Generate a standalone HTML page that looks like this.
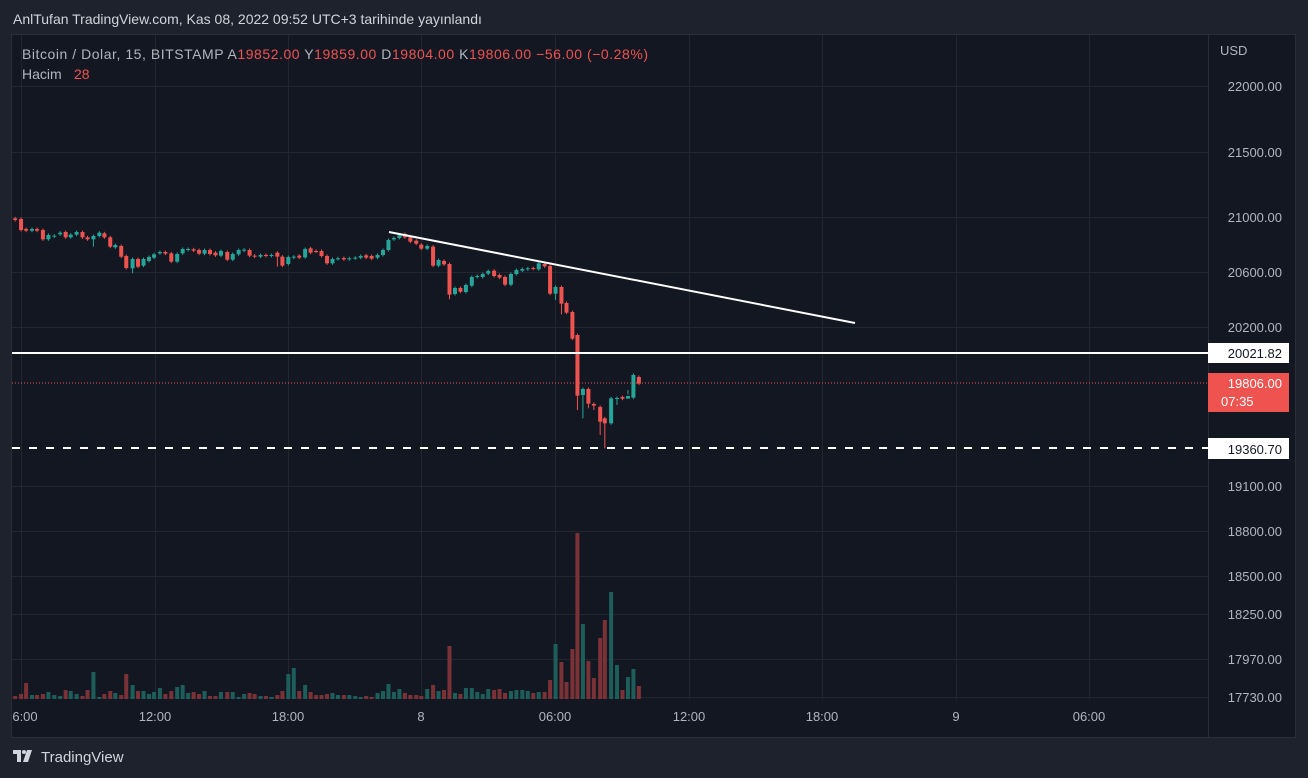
<!DOCTYPE html>
<html><head><meta charset="utf-8"><style>
html,body{margin:0;padding:0;background:#1e222d;width:1308px;height:778px;overflow:hidden;font-family:"Liberation Sans",sans-serif;}
svg{position:absolute;left:0;top:0}
</style></head><body>
<svg id="s" width="1308" height="778" xmlns="http://www.w3.org/2000/svg">
<rect x="0" y="0" width="1308" height="778" fill="#1e222d"/>
<rect x="11.5" y="34.5" width="1284" height="703" fill="#131722" stroke="#2a2e39"/>
<line x1="1208.5" y1="35" x2="1208.5" y2="737" stroke="#2a2e39"/>
<text x="13" y="24" fill="#d1d4dc" font-size="14">AnlTufan TradingView.com, Kas 08, 2022 09:52 UTC+3 tarihinde yayınlandı</text>
<g id="grid" stroke="#22262f" stroke-width="1"></g>
<g id="vol"></g>
<g id="cdl"></g>
<line x1="389" y1="232" x2="855" y2="323" stroke="#ffffff" stroke-width="2"/>
<line x1="12" y1="353" x2="1208" y2="353" stroke="#ffffff" stroke-width="2"/>
<line x1="12" y1="448" x2="1208" y2="448" stroke="#ffffff" stroke-width="2" stroke-dasharray="8,9"/>
<line x1="12" y1="383" x2="1208" y2="383" stroke="#ef5350" stroke-width="1" stroke-dasharray="1,2"/>
<g font-size="14" fill="#b2b5be">
<text x="22" y="59" textLength="626" lengthAdjust="spacing"><tspan>Bitcoin / Dolar, 15, BITSTAMP  A</tspan><tspan fill="#ef5350">19852.00</tspan><tspan>  Y</tspan><tspan fill="#ef5350">19859.00</tspan><tspan>  D</tspan><tspan fill="#ef5350">19804.00</tspan><tspan>  K</tspan><tspan fill="#ef5350">19806.00  −56.00 (−0.28%)</tspan></text>
<text x="22" y="79">Hacim</text><text x="74" y="79" fill="#ef5350">28</text>
<text x="1220" y="55" font-size="13">USD</text>
</g>
<g id="pl" font-size="13" fill="#b2b5be" text-anchor="end"></g>
<rect x="1208" y="343" width="81" height="20" fill="#ffffff"/>
<text x="1282" y="358" font-size="13" fill="#131722" text-anchor="end">20021.82</text>
<rect x="1208" y="373" width="81" height="39" fill="#ef5350"/>
<text x="1282" y="388" font-size="13" fill="#ffffff" text-anchor="end">19806.00</text>
<text x="1221" y="406" font-size="13" fill="#ffffff">07:35</text>
<rect x="1208" y="438" width="81" height="21" fill="#ffffff"/>
<text x="1282" y="454" font-size="13" fill="#131722" text-anchor="end">19360.70</text>
<g id="tl" font-size="13" fill="#b2b5be" text-anchor="middle"></g>
<g fill="#d1d4dc"><rect x="13" y="750" width="8" height="4"/><rect x="17" y="750" width="4" height="12"/><circle cx="24" cy="752" r="2"/><polygon points="27,750 32,750 28,762 23,762"/></g>
<text x="41" y="762" font-size="15" fill="#d1d4dc">TradingView</text>
</svg>
<script>
var NS="http://www.w3.org/2000/svg";
function el(p,t,a){var e=document.createElementNS(NS,t);for(var k in a)e.setAttribute(k,a[k]);document.getElementById(p).appendChild(e);return e;}
var hy=[86,152,217,272,327,486,531,576,614,659,697];
var hl=["22000.00","21500.00","21000.00","20600.00","20200.00","19100.00","18800.00","18500.00","18250.00","17970.00","17730.00"];
hy.forEach(function(y,i){el("grid","line",{x1:12,x2:1208,y1:y+.5,y2:y+.5});var t=el("pl","text",{x:1282,y:y+5});t.textContent=hl[i];});
var vx=[21,155,288,421,555,689,822,956,1089],vl=["6:00","12:00","18:00","8","06:00","12:00","18:00","9","06:00"];
vx.forEach(function(x,i){el("grid","line",{x1:x+.5,x2:x+.5,y1:35,y2:700});var t=el("tl","text",{x:i==0?25:x,y:721});t.textContent=vl[i];});
var d=[[36,55,60,528],[50,57,90,522],[62,87,92,489],[76,92,87,525],[88,87,92,525],[102,90,118,522],[115,118,105,516],[129,110,107,525],[143,103,98,528],[156,96,112,510],[168,112,104,513],[182,104,96,522],[196,96,112,528],[208,112,118,510],[222,118,108,456],[236,108,98,531],[248,100,112,522],[262,112,140,513],[274,142,135,519],[288,138,170,525],[300,168,204,462],[315,205,177,495],[328,177,200,513],[341,197,177,513],[354,183,171,522],[366,173,163,516],[380,160,156,504],[393,156,161,522],[407,160,185,513],[421,185,162,501],[434,160,147,495],[447,150,147,519],[460,148,152,516],[473,150,161,522],[486,161,150,513],[499,150,162,528],[512,158,166,528],[525,167,153,516],[540,156,179,516],[553,179,162,516],[567,163,150,531],[580,152,149,522],[593,150,167,519],[605,167,170,522],[619,170,165,528],[632,165,168,528],[645,168,165,531],[659,158,170,525],[671,170,197,513],[685,192,171,462],[698,173,170,444],[711,167,173,513],[725,172,147,495],[738,145,158,516],[751,153,155,525],[764,153,168,525],[777,168,190,522],[790,190,177,519],[803,177,175,525],[817,174,178,525],[830,178,175,525],[844,175,173,528],[857,173,168,531],[870,166,173,528],[883,168,176,531],[897,173,165,519],[910,165,150,513],[923,150,120,492],[936,118,114,516],[949,114,106,507],[962,102,112,519],[975,112,125,525],[989,122,131,525],[1001,134,146,528],[1015,146,138,507],[1029,140,197,495],[1042,197,180,513],[1055,183,193,510],[1068,192,284,378],[1081,282,264,519],[1094,264,275,522],[1107,276,255,504],[1121,257,231,504],[1134,231,228,516],[1147,231,222,522],[1160,221,213,507],[1174,212,228,510],[1187,225,233,507],[1200,231,254,519],[1214,254,222,513],[1227,222,210,510],[1241,212,207,510],[1254,208,205,513],[1267,204,206,519],[1280,208,190,516],[1294,192,199,516],[1307,198,281,480],[1320,281,261,372],[1334,261,311,426],[1346,309,338,486],[1360,336,416,387],[1372,405,587,39],[1385,585,567,312],[1398,567,611,423],[1411,612,617,474],[1426,621,665,354],[1437,655,670,300],[1452,670,595,216],[1466,596,594,435],[1479,591,596,510],[1492,596,588,471],[1505,593,525,447],[1518,531,551,498]];
var lows={222:140,315:220,659:200,1068:298,1320:300,1334:343,1372:630,1385:655,1426:705,1437:745,1398:625,1411:630,1466:615,1492:570};
d.forEach(function(c){
 var x=c[0]/2.376,o=200+c[1]/3,cl=200+c[2]/3,up=cl<o;
 var col=up?"#26a69a":"#ef5350";
 var top=Math.min(o,cl),bot=Math.max(o,cl);
 var lo=lows[c[0]]?200+lows[c[0]]/3:bot+1.5;
 el("cdl","line",{x1:x,x2:x,y1:top-1.5,y2:lo,stroke:col,"stroke-width":1});
 el("cdl","rect",{x:x-2,y:top,width:4,height:Math.max(1,bot-top),fill:col});
 var vt=520+c[3]/3;
 el("vol","rect",{x:x-2,y:vt,width:4,height:699-vt,fill:up?"#1d5e5b":"#7b3236"});
});
</script>
</body></html>
